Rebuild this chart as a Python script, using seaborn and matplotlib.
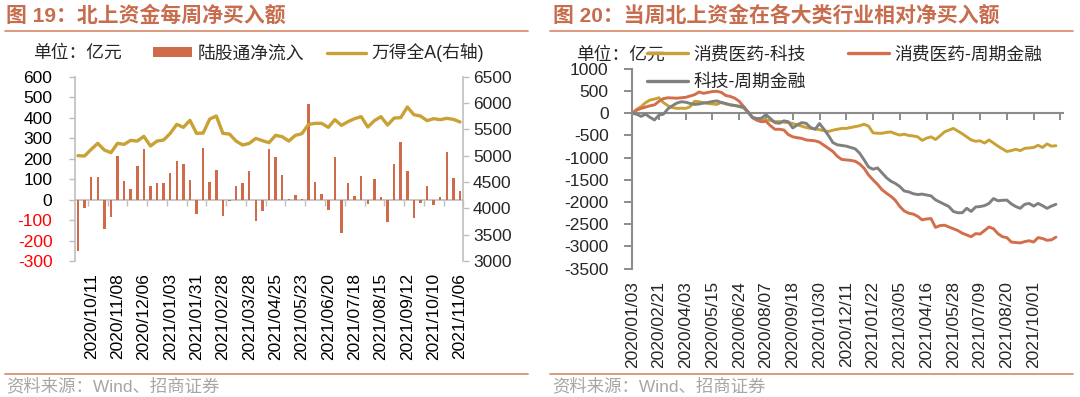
import numpy as np
import pandas as pd
import matplotlib
matplotlib.use("Agg")
import matplotlib.pyplot as plt
import seaborn as sns
from matplotlib.lines import Line2D
from matplotlib.patches import Patch

# ---------------- data ----------------
flow_ticklabels = ['2020/10/11', '2020/11/08', '2020/12/06', '2021/01/03', '2021/01/31',
                   '2021/02/28', '2021/03/28', '2021/04/25', '2021/05/23', '2021/06/20',
                   '2021/07/18', '2021/08/15', '2021/09/12', '2021/10/10', '2021/11/06']
northbound_flow = [-250, -42, 111, 108, -144, -85, 212, 90, 54, 166,
                   245, 67, 82, 82, 132, 189, 176, 95, -72, 251,
                   85, 144, -78, -8, 64, 83, 139, -103, -56, 245,
                   209, 121, 3, 24, 3, 468, 86, 26, -52, 209,
                   -161, 80, 15, 114, -24, 100, 11, -109, 176, 279,
                   139, -90, -18, 67, -28, 11, 232, 105, 44]
wind_all_a = [5000, 4994, 5120, 5234, 5108, 5057, 5234, 5215, 5291, 5278,
              5367, 5184, 5278, 5297, 5424, 5595, 5538, 5671, 5424, 5430,
              5696, 5753, 5424, 5411, 5278, 5203, 5234, 5329, 5285, 5247,
              5386, 5361, 5278, 5386, 5418, 5595, 5614, 5614, 5538, 5684,
              5576, 5646, 5703, 5741, 5544, 5665, 5741, 5582, 5715, 5722,
              5924, 5778, 5753, 5665, 5703, 5684, 5709, 5690, 5640]

sector_ticklabels = ['2020/01/03', '2020/02/21', '2020/04/03', '2020/05/15', '2020/06/24',
                     '2020/08/07', '2020/09/18', '2020/10/30', '2020/12/11', '2021/01/22',
                     '2021/03/05', '2021/04/16', '2021/05/28', '2021/07/09', '2021/08/20',
                     '2021/10/01']
cons_minus_tech = [0, 90, 150, 240, 300, 320, 350, 240, 170, 130,
                   110, 115, 110, 150, 270, 260, 240, 220, 210, 200,
                   250, 210, 190, 175, 150, 120, 20, -90, -120, -130,
                   -150, -160, -190, -185, -200, -210, -230, -260, -290, -320,
                   -340, -350, -370, -390, -410, -380, -360, -340, -340, -320,
                   -300, -280, -245, -290, -440, -450, -450, -430, -420, -460,
                   -490, -470, -500, -510, -530, -610, -560, -530, -590, -510,
                   -420, -380, -340, -400, -460, -530, -600, -630, -620, -670,
                   -600, -670, -740, -800, -860, -840, -810, -840, -790, -780,
                   -770, -720, -770, -690, -740, -730]
cons_minus_cyc = [0, 70, 110, 140, 170, 190, 270, 330, 350, 345,
                  340, 350, 360, 390, 420, 480, 450, 470, 490, 495,
                  470, 400, 380, 340, 270, 150, 30, -100, -160, -190,
                  -180, -280, -360, -360, -375, -480, -530, -550, -565, -600,
                  -610, -620, -650, -720, -790, -860, -970, -1040, -1050, -1060,
                  -1080, -1140, -1240, -1390, -1500, -1600, -1720, -1800, -1870, -1960,
                  -2100, -2200, -2250, -2270, -2320, -2400, -2380, -2370, -2570, -2530,
                  -2520, -2560, -2600, -2640, -2700, -2740, -2780, -2710, -2720, -2640,
                  -2560, -2600, -2710, -2780, -2800, -2900, -2910, -2920, -2890, -2870,
                  -2900, -2800, -2820, -2860, -2850, -2790]
tech_minus_cyc = [0, -20, -70, -20, -90, -150, -40, -20, 100, 170,
                  230, 260, 250, 220, 200, 210, 230, 245, 265, 280,
                  240, 220, 190, 175, 160, 140, 20, -100, -120, -110,
                  -30, -120, -210, -225, -170, -190, -330, -260, -210, -225,
                  -320, -360, -230, -360, -500, -660, -710, -725, -740, -770,
                  -800, -900, -1050, -1210, -1260, -1230, -1340, -1450, -1530, -1580,
                  -1650, -1750, -1770, -1810, -1830, -1820, -1840, -1860, -1950, -2000,
                  -2050, -2100, -2210, -2240, -2240, -2140, -2210, -2110, -2100, -2080,
                  -2030, -1920, -1970, -1960, -1955, -2040, -2100, -2140, -2050, -2030,
                  -2090, -2030, -2080, -2140, -2090, -2050]

# ---------------- style ----------------
sns.set_theme(style="white")
plt.rcParams['font.family'] = ['Liberation Sans', 'Noto Sans CJK SC']
plt.rcParams['axes.unicode_minus'] = False

TITLE = '#C76D4E'
SEP = '#DA9272'
BAR = '#CF6B4B'
GOLD = '#C9A134'
REDL = '#D36E4C'
GRAYL = '#808080'
AX_L = '#BFBFBF'
AX_R = '#8C8C8C'
FS = 12.5
LFS = 12.8

W, H = 1080, 397
fig = plt.figure(figsize=(W / 100, H / 100), dpi=100)


def fx(x):
    return x / W


def fy(y):
    return 1 - y / H


# ---------------- headers / footers ----------------
fig.text(fx(6), fy(15.5), '图 19：北上资金每周净买入额', color=TITLE, fontsize=15,
         fontweight='bold', va='center', ha='left')
fig.text(fx(553), fy(15.5), '图 20：当周北上资金在各大类行业相对净买入额', color=TITLE, fontsize=15,
         fontweight='bold', va='center', ha='left')
for x0, x1 in [(5, 528), (550, 1073)]:
    fig.add_artist(Line2D([fx(x0), fx(x1)], [fy(30.5), fy(30.5)], color=SEP, lw=1.3))
    fig.add_artist(Line2D([fx(x0), fx(x1)], [fy(373.5), fy(373.5)], color=SEP, lw=1.3))
for x0 in [6, 552]:
    fig.text(fx(x0), fy(385.5), '资料来源：Wind、招商证券', color='#A6A6A6', fontsize=12.5,
             va='center', ha='left')

# ---------------- left chart ----------------
df1 = pd.DataFrame({'week': np.arange(len(northbound_flow)),
                    'flow': northbound_flow, 'wind': wind_all_a})
ax1 = fig.add_axes([fx(74.7), fy(261), (463.3 - 74.7) / W, (261 - 76.7) / H])
sns.barplot(data=df1, x='week', y='flow', color=BAR, saturation=1, width=0.38,
            errorbar=None, ax=ax1, zorder=2, linewidth=0)
ax1.set_xlim(-0.5, len(northbound_flow) - 0.5)
ax1.set_ylim(-300, 600)
ax1.set_yticks(np.arange(-300, 601, 100))
ax1.set_yticklabels([str(v) for v in range(-300, 601, 100)])
for lab, v in zip(ax1.get_yticklabels(), range(-300, 601, 100)):
    lab.set_color('#FF0000' if v < 0 else '#000000')
ax1.set_xticks(np.arange(2, len(northbound_flow), 4))
ax1.set_xticklabels(flow_ticklabels, rotation=90)
ax1.tick_params(axis='x', length=0, pad=8.5, labelsize=FS, colors='#000000')
ax1.tick_params(axis='y', left=True, direction='out', length=4, width=1, color=AX_L,
                pad=12, labelsize=FS)
ax1.set_xlabel('')
ax1.set_ylabel('')
for s in ['top', 'bottom', 'right']:
    ax1.spines[s].set_visible(False)
ax1.spines['left'].set_color(AX_L)
ax1.spines['left'].set_linewidth(1.2)

zero1 = ax1.secondary_xaxis(300 / 900)
zero1.set_xticks(np.arange(1.5, len(northbound_flow), 3))
zero1.tick_params(axis='x', direction='out', length=4, width=1, color=AX_L, labelbottom=False,
                  labeltop=False)
for s in zero1.spines.values():
    s.set_color(AX_L)
    s.set_linewidth(1.2)

ax2 = ax1.twinx()
sns.lineplot(data=df1, x='week', y='wind', color=GOLD, lw=2.4, ax=ax2, zorder=3)
ax2.set_xlim(-0.5, len(northbound_flow) - 0.5)
ax2.set_ylim(3000, 6500)
ax2.set_yticks(np.arange(3000, 6501, 500))
ax2.tick_params(axis='y', right=True, direction='out', length=4, width=1, color=AX_L,
                pad=3, labelsize=FS)
ax2.set_xlabel('')
ax2.set_ylabel('')
for s in ['top', 'bottom', 'left']:
    ax2.spines[s].set_visible(False)
ax2.spines['right'].set_color(AX_L)
ax2.spines['right'].set_linewidth(1.2)

fig.text(fx(33), fy(53), '单位：亿元', fontsize=LFS, va='center', ha='left')
fig.legend(handles=[Patch(facecolor=BAR, edgecolor='none'), Line2D([], [], color=GOLD, lw=2.4)],
           labels=['陆股通净流入', '万得全A(右轴)'], loc='center left',
           bbox_to_anchor=(fx(153), fy(53)), ncol=2, frameon=False, fontsize=LFS,
           handlelength=2.2, handleheight=0.5, handletextpad=0.3, columnspacing=1.3,
           borderpad=0, borderaxespad=0)

# ---------------- right chart ----------------
df2 = pd.DataFrame({'week': np.arange(len(cons_minus_tech)),
                    '消费医药-科技': cons_minus_tech,
                    '消费医药-周期金融': cons_minus_cyc,
                    '科技-周期金融': tech_minus_cyc})
long2 = df2.melt(id_vars='week', var_name='pair', value_name='net')
palette = {'消费医药-科技': GOLD, '消费医药-周期金融': REDL, '科技-周期金融': GRAYL}
ax3 = fig.add_axes([fx(632.2), fy(268.7), 430.4 / W, 199.8 / H])
sns.lineplot(data=long2, x='week', y='net', hue='pair', palette=palette,
             hue_order=['消费医药-科技', '消费医药-周期金融', '科技-周期金融'],
             lw=2.1, legend=False, ax=ax3)
ax3.set_xlim(0, 96.5)
ax3.set_ylim(-3500, 1000)
ax3.set_yticks(np.arange(-3500, 1001, 500))
ax3.set_xticks(np.arange(0, 91, 6))
ax3.set_xticklabels(sector_ticklabels, rotation=90)
ax3.tick_params(axis='x', length=0, pad=9, labelsize=FS)
ax3.tick_params(axis='y', left=True, direction='out', length=6, width=1.4, color=AX_R,
                pad=11, labelsize=FS)
ax3.set_xlabel('')
ax3.set_ylabel('')
for s in ['top', 'bottom', 'right']:
    ax3.spines[s].set_visible(False)
ax3.spines['left'].set_color(AX_R)
ax3.spines['left'].set_linewidth(1.5)

zero3 = ax3.secondary_xaxis(3500 / 4500)
zero3.set_alignment('bottom')
zero3.set_xticks(np.arange(0, 97, 6))
zero3.tick_params(axis='x', direction='out', length=5, width=1.4, color=AX_R,
                  labelbottom=False, labeltop=False)
for s in zero3.spines.values():
    s.set_color(AX_R)
    s.set_linewidth(1.5)

fig.text(fx(576), fy(55), '单位：亿元', fontsize=LFS, va='center', ha='left')
fig.legend(handles=[Line2D([], [], color=GOLD, lw=2.4), Line2D([], [], color=GRAYL, lw=2.4),
                    Line2D([], [], color=REDL, lw=2.4)],
           labels=['消费医药-科技', '科技-周期金融', '消费医药-周期金融'],
           loc='center left', bbox_to_anchor=(fx(647), fy(68.7)), ncol=2, frameon=False,
           fontsize=LFS, handlelength=2.3, handletextpad=0.3, columnspacing=2.4,
           labelspacing=0.6, borderpad=0, borderaxespad=0)

fig.savefig('out.png', dpi=100)
